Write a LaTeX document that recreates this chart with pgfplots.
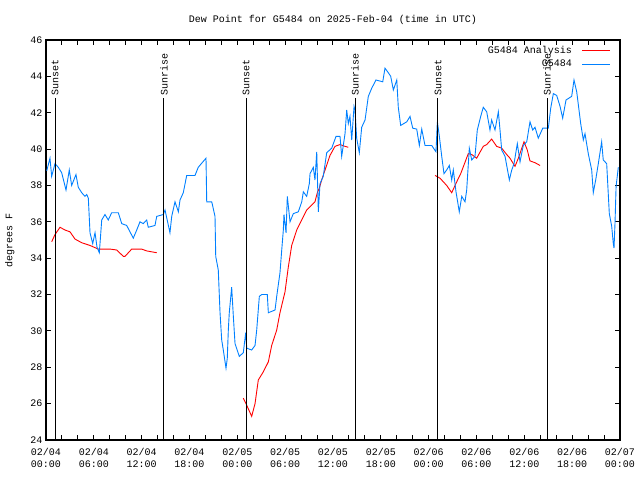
\documentclass[border=0pt]{standalone}
\usepackage{pgfplots}
\pgfplotsset{compat=1.18}
\usepackage{fontspec}
\setmainfont{Liberation Mono}
\setmonofont{Liberation Mono}
\definecolor{obsblue}{RGB}{0,128,255}
\newcommand{\gf}{\fontsize{10bp}{12bp}\selectfont}
\begin{document}
\gf
\begin{tikzpicture}
\useasboundingbox (-46bp,-40bp) rectangle (594bp,440bp);
\begin{axis}[
  at={(0,0)}, anchor=south west,
  width=574bp, height=400bp, scale only axis,
  xmin=0, xmax=72, ymin=24, ymax=46,
  axis line style={black, line width=1.2bp},
  xtick={0,6,...,72},
  minor xtick={2,4,8,10,14,16,20,22,26,28,32,34,38,40,44,46,50,52,56,58,62,64,68,70},
  ytick={24,26,...,46},
  xticklabels={{02/04\\00:00},{02/04\\06:00},{02/04\\12:00},{02/04\\18:00},{02/05\\00:00},{02/05\\06:00},{02/05\\12:00},{02/05\\18:00},{02/06\\00:00},{02/06\\06:00},{02/06\\12:00},{02/06\\18:00},{02/07\\00:00}},
  xticklabel style={align=center, font=\gf, yshift=-5bp},
  yticklabel style={font=\gf},
  /pgf/number format/assume math mode=true,
  tick align=inside,
  major tick length=5bp, minor tick length=5bp,
  every tick/.style={black, line width=1bp},
  title={Dew Point for G5484 on 2025-Feb-04 (time in UTC)},
  title style={font=\gf, yshift=6bp},
  ylabel={degrees F},
  ylabel style={font=\gf, at={(axis description cs:-0.063,0.5)}, anchor=center},
  legend style={at={(1,1)}, anchor=north east, xshift=-8bp, yshift=-3bp, draw=none, fill=none, font=\gf, row sep=1bp, inner sep=1bp},
  legend plot pos=right,
  legend cell align=right,
  legend image code/.code={\path (0bp,0bp); \draw[#1] (8bp,0bp) -- (36bp,0bp);},
  unbounded coords=jump,
]
\addplot[red, line width=0.9bp, sharp plot] coordinates {
(0.71,34.9) (1.13,35.3) (1.76,35.7) (2.38,35.55) (3.01,35.45) (3.64,35.05) (4.48,34.85) (5.52,34.7) (6.56,34.5) (8.03,34.5) (8.87,34.45) (9.7,34.1) (9.91,34.1) (10.75,34.5) (12.0,34.5) (12.63,34.4) (13.89,34.3)
(19,nan)
(24.75,26.3) (25.09,26.0) (25.8,25.3) (26.22,26.0) (26.63,27.3) (27.26,27.75) (27.89,28.3) (28.31,29.2) (28.94,30.05) (29.35,31.0) (29.98,32.15) (30.39,33.5) (30.82,34.7) (31.45,35.55) (32.7,36.65) (33.74,37.1) (34.03,37.6) (34.28,37.85) (34.58,38.3) (35.0,38.85) (35.62,39.65) (36.25,40.15) (36.88,40.25) (37.51,40.15) (37.92,40.1)
(43,nan)
(48.8,38.55) (49.42,38.4) (50.26,38.0) (50.89,37.6) (51.52,38.2) (52.02,38.65) (52.97,39.75) (53.4,39.7) (54.02,39.5) (54.85,40.15) (55.28,40.25) (55.9,40.55) (56.53,40.15) (57.16,40.05) (57.79,39.7) (58.2,39.5) (58.83,39.05) (59.25,39.5) (59.96,40.4) (60.37,39.95) (60.71,39.35) (61.34,39.25) (61.97,39.1)
};
\addlegendentry{G5484 Analysis}
\addplot[obsblue, line width=0.9bp, sharp plot] coordinates {
(0.09,38.8) (0.5,39.5) (0.71,38.5) (1.13,39.2) (1.54,39.0) (1.97,38.7) (2.51,37.75) (2.92,38.85) (3.22,38.0) (3.76,38.6) (4.05,37.9) (4.48,37.6) (4.89,37.4) (5.11,37.5) (5.31,37.3) (5.52,35.4) (5.86,34.8) (6.15,35.4) (6.4,34.6) (6.69,34.3) (6.99,36.1) (7.4,36.4) (7.81,36.1) (8.24,36.5) (9.07,36.5) (9.5,35.9) (10.12,35.8) (10.95,35.1) (11.38,35.55) (11.79,36.0) (12.2,35.9) (12.63,36.1) (12.83,35.7) (13.67,35.8) (13.89,36.3) (14.71,36.4) (14.93,36.65) (15.55,35.4) (15.77,36.3) (16.18,37.1) (16.6,36.55) (16.81,37.2) (17.22,37.6) (17.65,38.55) (18.69,38.55) (19.1,39.0) (20.07,39.5) (20.16,37.1) (20.79,37.1) (21.2,36.3) (21.29,34.1) (21.61,33.35) (21.83,31.0) (22.04,29.5) (22.24,28.95) (22.58,27.95) (22.74,28.5) (22.87,30.05) (22.99,31.0) (23.29,32.4) (23.5,30.8) (23.71,29.3) (24.25,28.6) (24.75,28.8) (25.05,29.9) (25.18,29.05) (25.8,28.95) (26.22,29.2) (26.43,30.05) (26.76,31.9) (27.06,32.0) (27.76,32.0) (27.89,31.0) (28.73,31.15) (28.94,31.9) (29.35,33.2) (29.57,34.45) (29.77,35.55) (29.85,36.4) (30.11,35.4) (30.27,37.4) (30.61,36.0) (31.02,36.45) (31.65,36.55) (32.08,37.1) (32.28,37.65) (32.7,37.4) (33.03,38.1) (33.12,38.65) (33.53,39.0) (33.74,38.3) (33.96,39.85) (34.16,36.55) (34.37,38.1) (34.78,38.5) (35.21,39.8) (35.84,40.05) (36.38,40.7) (36.88,40.7) (37.09,39.6) (37.51,40.85) (37.72,42.15) (37.92,41.4) (38.13,41.8) (38.35,40.5) (38.64,42.35) (38.76,42.15) (38.97,40.6) (39.3,39.8) (39.6,41.2) (40.02,41.6) (40.43,42.9) (40.86,43.35) (41.39,43.8) (42.24,43.7) (42.52,44.45) (42.94,44.2) (43.24,44.0) (43.57,43.25) (44.0,43.8) (44.19,42.3) (44.49,41.3) (45.25,41.5) (45.66,41.8) (46.0,41.15) (46.5,41.1) (46.83,40.2) (47.13,41.1) (47.54,40.2) (48.38,40.2) (48.92,39.85) (49.09,41.5) (49.34,40.7) (49.64,39.6) (49.92,38.65) (50.26,38.85) (50.59,39.1) (50.89,38.3) (51.09,38.85) (51.43,37.65) (51.84,36.55) (52.15,37.4) (52.56,37.1) (52.77,37.75) (53.1,40.05) (53.4,39.4) (53.81,39.6) (54.1,41.05) (54.53,41.8) (54.85,42.3) (55.28,42.05) (55.69,41.05) (55.9,41.6) (56.32,41.05) (56.74,42.05) (56.95,41.05) (57.16,39.95) (57.58,39.6) (58.12,38.3) (58.42,38.85) (58.71,39.2) (59.12,40.3) (59.46,39.3) (59.87,40.2) (60.3,40.4) (60.71,41.5) (61.05,41.05) (61.34,41.2) (61.75,40.6) (62.31,41.15) (63.01,41.15) (63.31,42.25) (63.64,43.05) (64.06,42.95) (64.48,42.35) (64.81,41.7) (65.23,42.7) (65.94,42.9) (66.23,43.8) (66.57,43.15) (67.07,41.4) (67.4,40.5) (67.61,40.85) (68.02,39.75) (68.45,38.85) (68.65,37.6) (68.95,38.3) (69.28,39.2) (69.7,40.4) (69.9,39.4) (70.33,39.2) (70.66,36.45) (70.96,35.75) (71.16,34.8) (71.25,34.55) (71.38,36.0) (71.51,37.95) (71.79,39.0)
};
\addlegendentry{G5484}
\addplot[black, line width=1bp, forget plot] coordinates {(1.13,24) (1.13,42.8)} node[pos=1, rotate=90, anchor=west, font=\gf, inner sep=2bp] {Sunset};
\addplot[black, line width=1bp, forget plot] coordinates {(14.8,24) (14.8,42.8)} node[pos=1, rotate=90, anchor=west, font=\gf, inner sep=2bp] {Sunrise};
\addplot[black, line width=1bp, forget plot] coordinates {(25.09,24) (25.09,42.8)} node[pos=1, rotate=90, anchor=west, font=\gf, inner sep=2bp] {Sunset};
\addplot[black, line width=1bp, forget plot] coordinates {(38.76,24) (38.76,42.8)} node[pos=1, rotate=90, anchor=west, font=\gf, inner sep=2bp] {Sunrise};
\addplot[black, line width=1bp, forget plot] coordinates {(49.17,24) (49.17,42.8)} node[pos=1, rotate=90, anchor=west, font=\gf, inner sep=2bp] {Sunset};
\addplot[black, line width=1bp, forget plot] coordinates {(62.85,24) (62.85,42.8)} node[pos=1, rotate=90, anchor=west, font=\gf, inner sep=2bp] {Sunrise};
\end{axis}
\end{tikzpicture}
\end{document}
